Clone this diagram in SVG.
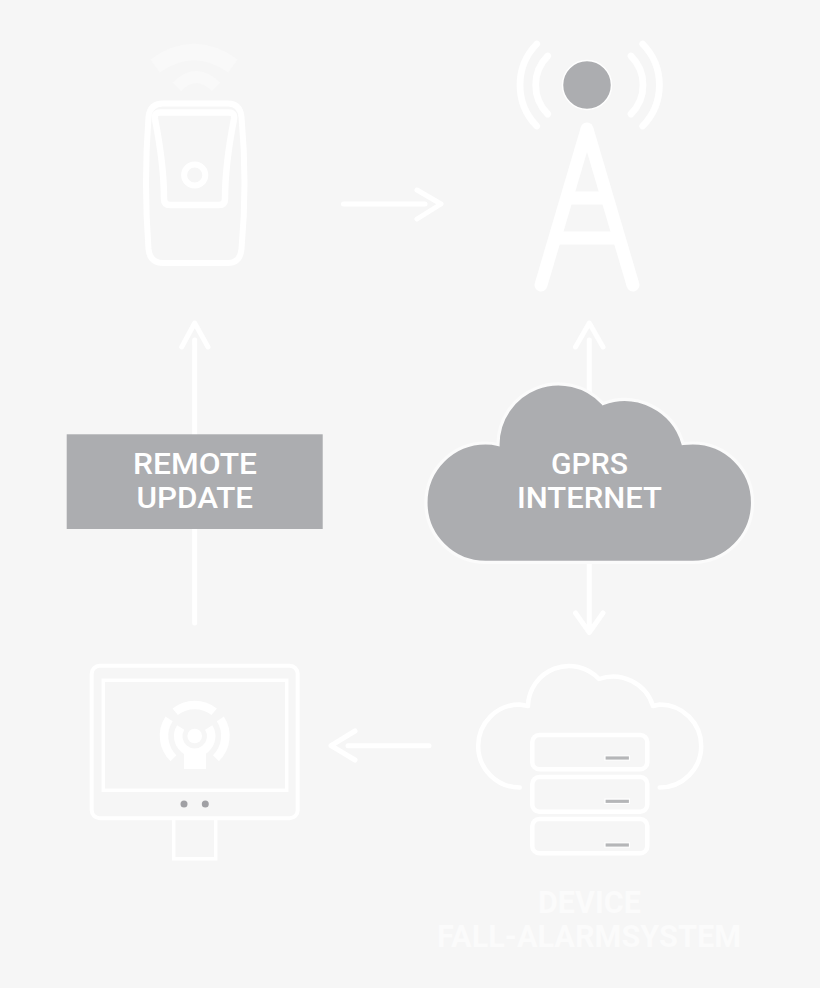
<svg xmlns="http://www.w3.org/2000/svg" width="820" height="988" viewBox="0 0 820 988">
<style>
.ln{fill:none;stroke:#fff;stroke-linecap:round;stroke-linejoin:round}
.cn{fill:none;stroke:#fff;stroke-width:5;stroke-linecap:round;stroke-linejoin:round}
.sq{fill:none;stroke:#fff;stroke-linecap:butt}
.lbl{font-family:"Roboto","Liberation Sans",sans-serif;font-size:30px;font-weight:500;fill:#fff;text-anchor:start}
.cap{font-family:"Roboto","Liberation Sans",sans-serif;font-size:31px;font-weight:700;fill:#fbfbfb;text-anchor:start}
.srv{fill:none;stroke:#fff;stroke-width:4.5}
.led{fill:#b5b6b8;stroke:#fff;stroke-width:1.200}
</style>
<rect width="820" height="988" fill="#f6f6f6"/>
<g id="connectors">
<path class="cn" d="M343.500 204H425M417 190L441 204L417 219"/>
<path class="cn" d="M589.300 400V340M575.500 347L589.300 323L603 347"/>
<path class="cn" d="M589.300 560V630M575.500 613L589.300 632.500L603 613"/>
<path class="cn" d="M429 745.700H348M355 731L331 745.700L355 760"/>
<path class="cn" d="M194.700 623V340M181.700 347L194.700 323L208 347"/>
</g>
<g id="device">
<path class="sq" stroke-width="16" style="stroke:#f9f9f9" d="M155 66Q194 38 233 66"/>
<path class="sq" stroke-width="12" style="stroke:#f9f9f9" d="M177 87Q196 67 216 87"/>
<path class="ln" stroke-width="6" d="M163 103.500H228Q240 103.500 241.500 117Q244.500 150 244.500 183Q244.500 216 241.500 249Q240 263 228 263H163Q150 263 148.500 249Q146 216 146 183Q146 150 148.500 117Q150 103.500 163 103.500Z"/>
<path class="ln" stroke-width="6.500" d="M160 112.500H229Q235 112.500 234 119Q225 165 225 199Q225 205 219 205H170Q164 205 164 199Q164 165 155 119Q154 112.500 160 112.500Z"/>
<circle cx="194.700" cy="175" r="10.600" fill="none" stroke="#fff" stroke-width="6"/>
</g>
<g id="tower">
<circle cx="587" cy="85" r="24.500" fill="#acadb0" stroke="#fff" stroke-width="1.500"/>
<path class="ln" stroke-width="6.800" d="M536.700 44A58.700 58.700 0 0 0 536.700 126M547.700 56A41 41 0 0 0 547.700 114M642.700 44A58.700 58.700 0 0 1 642.700 126M631 56A41 41 0 0 1 631 114"/>
<path class="ln" stroke-width="13" d="M541 285L587 129L633 285"/>
<path class="sq" stroke-width="13" d="M568 198H606M556 238H618"/>
</g>
<g id="remote-update">
<rect x="66.700" y="434.300" width="256" height="94.700" fill="#acadb0"/>
<text class="lbl" x="133" y="474" textLength="124" lengthAdjust="spacingAndGlyphs">REMOTE</text>
<text class="lbl" x="136.500" y="508" textLength="116.500" lengthAdjust="spacingAndGlyphs">UPDATE</text>
</g>
<g id="gprs-internet">
<path fill="#acadb0" stroke="#fbfbfb" stroke-width="3.200" d="M485.600 562.300A59.650 59.650 0 0 1 485.600 443Q492 443 498 444.500A60.500 60.500 0 0 1 603 403.500A61 61 0 0 1 683 443.500Q688 443 692.900 443A59.650 59.650 0 0 1 692.900 562.300Z"/>
<text class="lbl" x="551" y="474" textLength="77" lengthAdjust="spacingAndGlyphs">GPRS</text>
<text class="lbl" x="517" y="508" textLength="145" lengthAdjust="spacingAndGlyphs">INTERNET</text>
</g>
<g id="monitor">
<rect x="91.700" y="665.700" width="206" height="152.600" rx="8" fill="none" stroke="#fff" stroke-width="4"/>
<rect x="103.300" y="680.300" width="183.400" height="110" fill="none" stroke="#fff" stroke-width="3.500"/>
<path class="sq" stroke-width="3.500" d="M173.700 818V858.700H215.700V818"/>
<circle cx="184" cy="804" r="3.500" fill="#a0a0a4"/>
<circle cx="205.300" cy="804" r="3.500" fill="#a0a0a4"/>
<circle cx="194.700" cy="736" r="7.300" fill="#fff"/>
<path class="sq" stroke-width="8.500" d="M180.700 727.400A16.500 16.500 0 1 0 208.700 727.400"/>
<rect x="184" y="750" width="22" height="19" fill="#fff"/>
<path class="sq" stroke-width="8.500" d="M175.200 711.800A31 31 0 0 1 214.200 711.800M169.100 718.800A31 31 0 0 0 173.500 758.200M220.300 718.800A31 31 0 0 1 215.900 758.200"/>
</g>
<g id="server">
<path class="ln" stroke-width="4.500" d="M519.700 787.500A41.500 41.500 0 0 1 519.700 704.500L528 706A41 41 0 0 1 599 679A42 42 0 0 1 653 706L659.700 704.500A41.500 41.500 0 0 1 659.700 787.500"/>
<rect class="srv" x="532.300" y="735" width="115" height="34.300" rx="7"/>
<rect class="srv" x="532.300" y="777" width="115" height="34.700" rx="7"/>
<rect class="srv" x="532.300" y="819" width="115" height="34.300" rx="7"/>
<rect class="led" x="605" y="755.800" width="24.500" height="4.400"/>
<rect class="led" x="605" y="799.100" width="24.500" height="4.400"/>
<rect class="led" x="605" y="842.800" width="24.500" height="4.400"/>
<text class="cap" x="538" y="913.300" textLength="103" lengthAdjust="spacingAndGlyphs">DEVICE</text>
<text class="cap" x="437" y="947.300" textLength="304" lengthAdjust="spacingAndGlyphs">FALL-ALARMSYSTEM</text>
</g>
</svg>
